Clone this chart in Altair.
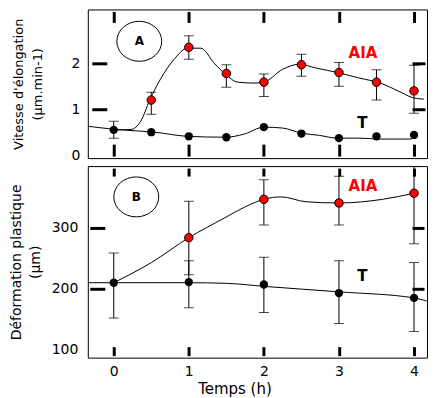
import altair as alt
import pandas as pd

# ---------------- data ----------------
time_ticks = [0, 1, 2, 3, 4]

# Panel A : vitesse d'élongation (µm.min-1)
a_aia_t = [0.5, 1, 1.5, 2, 2.5, 3, 3.5, 4]
a_aia_v = [1.20, 2.35, 1.78, 1.59, 1.97, 1.80, 1.59, 1.40]
a_aia_lo = [0.89, 2.09, 1.48, 1.28, 1.72, 1.50, 1.20, 0.91]
a_aia_hi = [1.37, 2.60, 1.97, 1.77, 2.20, 2.02, 1.86, 1.96]

a_t_t = [0, 0.5, 1, 1.5, 2, 2.5, 3, 3.5, 4]
a_t_v = [0.55, 0.50, 0.41, 0.39, 0.61, 0.47, 0.37, 0.41, 0.44]
a_t_err_t = [0]
a_t_lo = [0.37]
a_t_hi = [0.74]

a_aia_curve_t = [0.05, 0.23, 0.36, 0.48, 0.62, 0.81, 0.98, 1.16, 1.34, 1.49, 1.65,
                 1.87, 2.0, 2.25, 2.47, 2.69, 2.98, 3.27, 3.55, 3.8, 3.97, 4.13]
a_aia_curve_v = [0.55, 0.56, 0.74, 1.2, 1.65, 2.1, 2.33, 2.33, 2.0, 1.76, 1.59,
                 1.57, 1.59, 1.87, 1.98, 1.9, 1.8, 1.68, 1.57, 1.39, 1.26, 1.22]
a_t_curve_t = [-0.345, 0, 0.19, 0.54, 0.98, 1.49, 1.74, 2.0, 2.25, 2.5, 2.74,
               2.98, 3.27, 3.55, 3.97]
a_t_curve_v = [0.63, 0.565, 0.54, 0.5, 0.41, 0.39, 0.46, 0.61, 0.59, 0.48, 0.43,
               0.37, 0.37, 0.35, 0.35]

# Panel B : déformation plastique (µm)
b_aia_t = [1, 2, 3, 4]
b_aia_v = [284, 347, 341, 357]
b_aia_lo = [223, 305, 305, 274]
b_aia_hi = [344, 379, 385, 401]

b_t_t = [0, 1, 2, 3, 4]
b_t_v = [210, 211, 207, 193, 185]
b_t_lo = [152, 169, 161, 143, 130]
b_t_hi = [259, 246, 252, 246, 243]

b_aia_curve_t = [0, 0.5, 1, 1.47, 1.74, 2.0, 2.23, 2.56, 3.0, 3.58, 4.0]
b_aia_curve_v = [210, 243, 284, 316, 334, 347, 351, 343, 341, 347, 357]
b_t_curve_t = [-0.345, 0, 1, 1.5, 2, 3, 4, 4.17]
b_t_curve_v = [210, 210, 210, 209, 204, 195, 185, 180]

# annotations
tag_text = ["A", "B"]
tag_t = [0.34, 0.30]
tag_v = [2.48, 351]
series_text = ["AIA", "T"]
series_t = [3.32, 3.31]
series_v_a = [2.22, 0.70]
series_v_b = [369, 221]
series_color = ["#ff0000", "#000000"]

y_title_a = ["Vitesse d'élongation", "(µm.min-1)"]
y_title_b = ["Déformation plastique", "(µm)"]
x_title = "Temps (h)"

# ---------------- scales ----------------
xs = alt.Scale(domain=[-0.3455, 4.173], nice=False, zero=False)
ys_a = alt.Scale(domain=[-0.065, 3.174], nice=False, zero=False)
ys_b = alt.Scale(domain=[86.9, 401.6], nice=False, zero=False)

FONT = "DejaVu Sans"
ELLIPSE = "M -1 0 A 1 0.89 0 1 1 1 0 A 1 0.89 0 1 1 -1 0 Z"
PLOT_W = 340


def tick_axis(orient, values, offset, size, labels=False, **kw):
    return alt.Axis(orient=orient, values=values, offset=offset, tickSize=size,
                    tickWidth=3, tickColor="black", domain=False, grid=False,
                    labels=labels, labelFont=FONT, labelFontSize=14,
                    labelColor="black", minExtent=0, **kw)


def panel(h, ys, aia_t, aia_v, aia_lo, aia_hi, t_t, t_v, te_t, te_lo, te_hi,
          ca_t, ca_v, ct_t, ct_v, tag, tag_x, tag_y, sv, axes):
    aia = pd.DataFrame({"t": aia_t, "v": aia_v, "lo": aia_lo, "hi": aia_hi})
    tt = pd.DataFrame({"t": t_t, "v": t_v})
    te = pd.DataFrame({"t": te_t, "lo": te_lo, "hi": te_hi})
    ca = pd.DataFrame({"t": ca_t, "v": ca_v})
    ct = pd.DataFrame({"t": ct_t, "v": ct_v})
    tagdf = pd.DataFrame({"t": [tag_x], "v": [tag_y], "txt": [tag]})
    sdf = pd.DataFrame({"t": series_t, "v": sv, "txt": series_text, "c": series_color})

    X = lambda f="t": alt.X(f, type="quantitative", scale=xs, axis=None)
    Y = lambda f="v": alt.Y(f, type="quantitative", scale=ys, axis=None)

    ax_bl = alt.Chart(tt).mark_point(opacity=0).encode(
        x=alt.X("t:Q", scale=xs, axis=axes[0]),
        y=alt.Y("v:Q", scale=ys, axis=axes[1]))
    ax_tr = alt.Chart(tt).mark_point(opacity=0).encode(
        x=alt.X("t:Q", scale=xs, axis=axes[2]),
        y=alt.Y("v:Q", scale=ys, axis=axes[3]))

    line_t = alt.Chart(ct).mark_line(color="black", strokeWidth=1,
                                     interpolate="monotone", clip=True).encode(x=X(), y=Y())
    line_a = alt.Chart(ca).mark_line(color="black", strokeWidth=1,
                                     interpolate="monotone", clip=True).encode(x=X(), y=Y())

    def errbars(df):
        r = alt.Chart(df).mark_rule(color="black", strokeWidth=1, clip=True).encode(
            x=X(), y=Y("lo"), y2="hi")
        c1 = alt.Chart(df).mark_tick(color="black", orient="horizontal", size=10,
                                     thickness=1, clip=True).encode(x=X(), y=Y("lo"))
        c2 = alt.Chart(df).mark_tick(color="black", orient="horizontal", size=10,
                                     thickness=1, clip=True).encode(x=X(), y=Y("hi"))
        return [r, c1, c2]

    pts_t = alt.Chart(tt).mark_point(shape="circle", filled=True, size=70,
                                     color="black", opacity=1).encode(x=X(), y=Y())
    pts_a = alt.Chart(aia).mark_point(shape="circle", filled=True, size=72,
                                      fill="#ff0000", stroke="black", strokeWidth=1,
                                      opacity=1).encode(x=X(), y=Y())

    ell = alt.Chart(tagdf).mark_point(shape=ELLIPSE, size=2025, filled=False,
                                      color="black", strokeWidth=1, opacity=1).encode(x=X(), y=Y())
    tagt = alt.Chart(tagdf).mark_text(font=FONT, fontSize=12, fontWeight="bold",
                                      color="black").encode(x=X(), y=Y(), text="txt:N")
    stext = alt.Chart(sdf).mark_text(font=FONT, fontSize=15, fontWeight="bold").encode(
        x=X(), y=Y(), text="txt:N", color=alt.Color("c:N", scale=None))

    layers = [ax_bl, ax_tr, line_t, line_a] + errbars(aia) + errbars(te) + \
        [pts_t, pts_a, ell, tagt, stext]
    return alt.layer(*layers).resolve_scale(x="independent", y="independent") \
        .resolve_axis(x="independent", y="independent") \
        .properties(width=PLOT_W, height=h)


zero_hidden = {"condition": {"test": "datum.value === 0", "value": 0}, "value": 1}
hundred_hidden = {"condition": {"test": "datum.value === 100", "value": 0}, "value": 1}

axes_a = [
    tick_axis("bottom", time_ticks, -14, 12, title=None),
    tick_axis("left", [0, 1, 2], -19, 15, labels=True, labelPadding=12,
              tickOpacity=zero_hidden, title=y_title_a, titleFont=FONT,
              titleFontSize=13, titleFontWeight="normal", titleColor="black",
              titleLineHeight=19, titlePadding=27),
    tick_axis("top", time_ticks, -13, 11, title=None),
    tick_axis("right", [1, 2], -15, 13, title=None),
]
axes_b = [
    tick_axis("bottom", time_ticks, -11, 9, labels=True, labelPadding=9,
              title=x_title, titleFont=FONT, titleFontSize=15, titleFontWeight="normal",
              titleColor="black", titlePadding=3, titleX=147, titleAlign="center"),
    tick_axis("left", [100, 200, 300], -17, 15, labels=True, labelPadding=12,
              tickOpacity=hundred_hidden, title=y_title_b, titleFont=FONT,
              titleFontSize=14, titleFontWeight="normal", titleColor="black",
              titleLineHeight=19, titlePadding=9),
    tick_axis("top", time_ticks, -10, 8, title=None),
    tick_axis("right", [200, 300], -15, 12, title=None),
]

pa = panel(149, ys_a, a_aia_t, a_aia_v, a_aia_lo, a_aia_hi, a_t_t, a_t_v,
           a_t_err_t, a_t_lo, a_t_hi, a_aia_curve_t, a_aia_curve_v,
           a_t_curve_t, a_t_curve_v, tag_text[0], tag_t[0], tag_v[0], series_v_a, axes_a)
pb = panel(192, ys_b, b_aia_t, b_aia_v, b_aia_lo, b_aia_hi, b_t_t, b_t_v,
           b_t_t, b_t_lo, b_t_hi, b_aia_curve_t, b_aia_curve_v,
           b_t_curve_t, b_t_curve_v, tag_text[1], tag_t[1], tag_v[1], series_v_b, axes_b)

chart = alt.vconcat(pa, pb, spacing=8, bounds="flush").properties(
    padding={"top": 0, "left": 0, "right": 0, "bottom": 0},
    background="white",
).configure_view(stroke="black", strokeWidth=1)

chart.save("out.html", embed_options={"renderer": "svg", "actions": False})
